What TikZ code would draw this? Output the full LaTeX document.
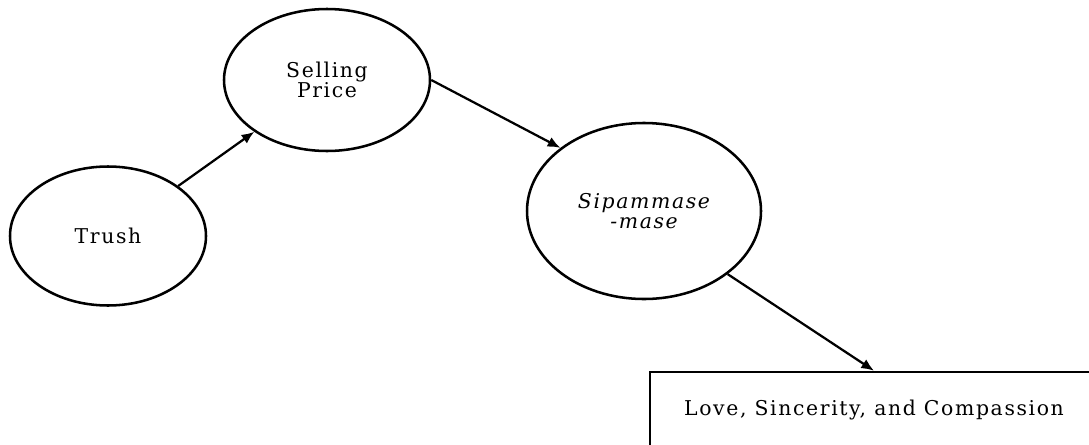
\documentclass[tikz,border=0pt]{standalone}
\usepackage{fontspec}
\setmainfont{DejaVu Serif}[LetterSpace=8]
\usepackage{tikz}
\usetikzlibrary{arrows,arrows.meta,shapes.geometric}
\tikzset{
  oval/.style={ellipse,draw,line width=1.8pt,inner sep=0pt,align=center},
  kotak/.style={rectangle,draw,line width=1.8pt,inner sep=0pt},
  panah/.style={-{Latex[length=9pt,width=7.5pt]},line width=1.6pt},
  huruf/.style={font=\fontsize{14.5}{14.5}\selectfont}
}

\begin{document}
\begin{tikzpicture}
\useasboundingbox (0,0) rectangle (27.225,11.1);
\node[oval,huruf,minimum width=4.9cm,minimum height=3.475cm] (trush) at (2.7,5.2) {Trush};
\node[oval,huruf,minimum width=5.15cm,minimum height=3.55cm] (selling) at (8.175,9.1) {Selling\\Price};
\node[oval,huruf,minimum width=5.85cm,minimum height=4.4cm] (sipammase) at (16.1,5.825) {\itshape Sipammase\\\itshape -mase};
\node[kotak,huruf,minimum width=11.2cm,minimum height=1.9cm] (nilai) at (21.85,0.85) {Love, Sincerity, and Compassion};
\draw[panah] (trush) -- (selling);
\draw[panah] (selling.east) -- (sipammase.north west);
\draw[panah] (sipammase.south east) -- (nilai.north);
\end{tikzpicture}
\end{document}
